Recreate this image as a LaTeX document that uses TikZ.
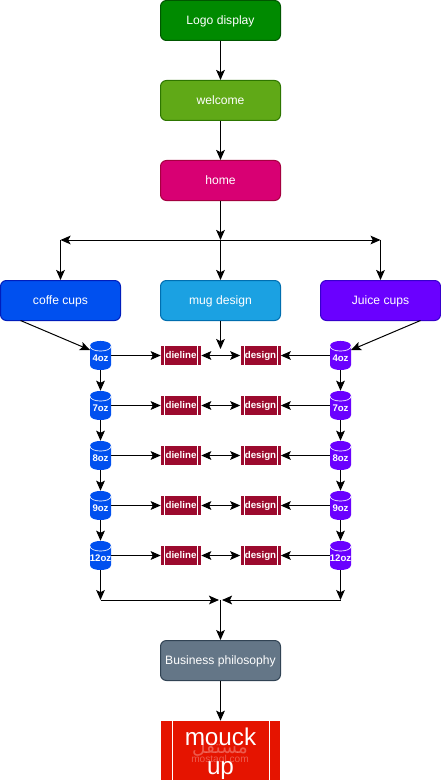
\documentclass[tikz,border=0pt]{standalone}
\usepackage{fontspec}
\setmainfont{Liberation Sans}
\newfontfamily\arabicfont[Script=Arabic]{DejaVu Sans}
\TeXXeTstate=1
\usetikzlibrary{arrows.meta}
\newdimen\pxu \pxu=0.75pt
\definecolor{cGreen}{HTML}{008A00}\definecolor{bGreen}{HTML}{005700}
\definecolor{cLime}{HTML}{60A917}\definecolor{bLime}{HTML}{2D7600}
\definecolor{cPink}{HTML}{D80073}\definecolor{bPink}{HTML}{A50040}
\definecolor{cBlue}{HTML}{0050EF}\definecolor{bBlue}{HTML}{001DBC}
\definecolor{cSky}{HTML}{1BA1E2}\definecolor{bSky}{HTML}{006EAF}
\definecolor{cViolet}{HTML}{6A00FF}\definecolor{bViolet}{HTML}{3700CC}
\definecolor{cCrim}{HTML}{9C0A2E}
\definecolor{cSlate}{HTML}{647687}\definecolor{bSlate}{HTML}{314354}
\definecolor{cRed}{HTML}{E51400}
\tikzset{
  x=0.75pt,y=-0.75pt,
  flow/.style={draw=black,line width=0.75pt,-{Stealth[length=7.5pt,width=6.5pt,inset=1.6pt]}},
  flowboth/.style={flow,{Stealth[length=7.5pt,width=6.5pt,inset=1.6pt]}-{Stealth[length=7.5pt,width=6.5pt,inset=1.6pt]}},
  card/.style n args={2}{draw=#2,fill=#1,rounded corners=4.5pt,line width=0.75pt,minimum width=120\pxu,minimum height=40\pxu,inner sep=0pt,text=white,font=\fontsize{9.1pt}{11pt}\selectfont,text height=6.5pt,text depth=0pt},
  barrel/.style={minimum width=21\pxu,minimum height=29\pxu,inner sep=0pt,text=white,font=\bfseries\fontsize{7.2pt}{9pt}\selectfont},
  proc/.style={fill=cCrim,minimum width=40\pxu,minimum height=19\pxu,inner sep=0pt,text=white,font=\bfseries\fontsize{7.3pt}{9pt}\selectfont,text height=5.2pt,text depth=0pt,
    path picture={\draw[white,line width=0.6pt]
      ([xshift=3.5\pxu]path picture bounding box.north west)--([xshift=3.5\pxu]path picture bounding box.south west)
      ([xshift=-3.5\pxu]path picture bounding box.north east)--([xshift=-3.5\pxu]path picture bounding box.south east);}},
}
\newcommand{\drumshape}[3]{%
  \begin{scope}[shift={(#1,#2)}]
    \fill[#3] (-10.5,-9.5) .. controls (-10.5,-16.2) and (10.5,-16.2) .. (10.5,-9.5)
      -- (10.5,9.5) .. controls (10.5,16.2) and (-10.5,16.2) .. (-10.5,9.5) -- cycle;
    \draw[white,line width=0.5pt] (-10.5,-9.5) .. controls (-10.5,-2.8) and (10.5,-2.8) .. (10.5,-9.5);
  \end{scope}}
\begin{document}
\begin{tikzpicture}
\useasboundingbox (0,0) rectangle (441,781);
\node[card={cGreen}{bGreen}] (logo) at (220.5,20.5) {Logo display};
\node[card={cLime}{bLime}] (welcome) at (220.5,100.5) {welcome};
\node[card={cPink}{bPink}] (home) at (220.5,180.5) {home};
\node[card={cBlue}{bBlue}] (coffee) at (60.5,300.5) {coffe cups};
\node[card={cSky}{bSky}] (mug) at (220.5,300.5) {mug design};
\node[card={cViolet}{bViolet}] (juice) at (380.5,300.5) {Juice cups};
\node[card={cSlate}{bSlate}] (biz) at (220.5,660.5) {Business philosophy};
\node[fill=cRed,minimum width=119\pxu,minimum height=59\pxu,inner sep=0pt,text=white,align=center,
  font=\fontsize{18.2pt}{21.7pt}\selectfont,
  path picture={\draw[white,line width=0.6pt]
    ([xshift=11\pxu]path picture bounding box.north west)--([xshift=11\pxu]path picture bounding box.south west)
    ([xshift=-11\pxu]path picture bounding box.north east)--([xshift=-11\pxu]path picture bounding box.south east);}]
  (mock) at (220.5,750.5) {\rule{0pt}{18pt}mouck\\up};
\node[text=white,opacity=0.3,font=\arabicfont\fontsize{14pt}{14pt}\selectfont] (wma) at (220,748) {\beginR مستقل\endR};
\node[text=white,opacity=0.3,font=\fontsize{7.6pt}{8pt}\selectfont] (wmb) at (220,760) {mostaql.com};
\coordinate (hub) at (220.5,240);
\coordinate (left) at (60.5,240);
\coordinate (right) at (380.5,240);
\coordinate (mugend) at (220.5,349);
\coordinate (mid) at (220.5,600);
\coordinate (midl) at (219,600);
\coordinate (midr) at (222,600);
\coordinate (lowl) at (100.5,600);
\coordinate (lowr) at (340.5,600);
\foreach \i/\y/\t in {1/355.5/4oz,2/405.5/7oz,3/455.5/8oz,4/505.5/9oz,5/555.5/12oz}{
  \drumshape{100.5}{\y}{cBlue}
  \drumshape{340.5}{\y}{cViolet}
  \node[barrel] (cl\i) at (100.5,\y) {\raisebox{-6\pxu}[0pt][0pt]{\t}};
  \node[barrel] (cr\i) at (340.5,\y) {\raisebox{-6\pxu}[0pt][0pt]{\t}};
  \node[proc] (di\i) at (181,\y) {dieline};
  \node[proc] (de\i) at (260.5,\y) {design};
  \draw[flow] (cl\i.east) -- (di\i.west);
  \draw[flow] (cr\i.west) -- (de\i.east);
  \draw[flowboth] (di\i.east) -- (de\i.west);
}
\foreach \a/\b in {1/2,2/3,3/4,4/5}{
  \draw[flow] (cl\a.south) -- (cl\b.north);
  \draw[flow] (cr\a.south) -- (cr\b.north);
}
\draw[flow] (logo) -- (welcome);
\draw[flow] (welcome) -- (home);
\draw[flow] (home) -- (hub);
\draw[flow] (hub) -- (left);
\draw[flow] (hub) -- (right);
\draw[flow] (hub) -- (mug);
\draw[flow] (left) -- (coffee);
\draw[flow] (right) -- (juice);
\coordinate (cofout) at (20.5,320.5);
\coordinate (juiout) at (420.5,320.5);
\coordinate (cofin) at (90,350);
\coordinate (juiin) at (351,350);
\draw[flow] (cofout) -- (cofin);
\draw[flow] (juiout) -- (juiin);
\draw[flow] (mug) -- (mugend);
\draw[flow] (cl5.south) -- (lowl);
\draw[flow] (cr5.south) -- (lowr);
\draw[flow] (lowl) -- (midl);
\draw[flow] (lowr) -- (midr);
\draw[flow] (mid) -- (biz);
\draw[flow] (biz) -- (mock);
\end{tikzpicture}
\end{document}
